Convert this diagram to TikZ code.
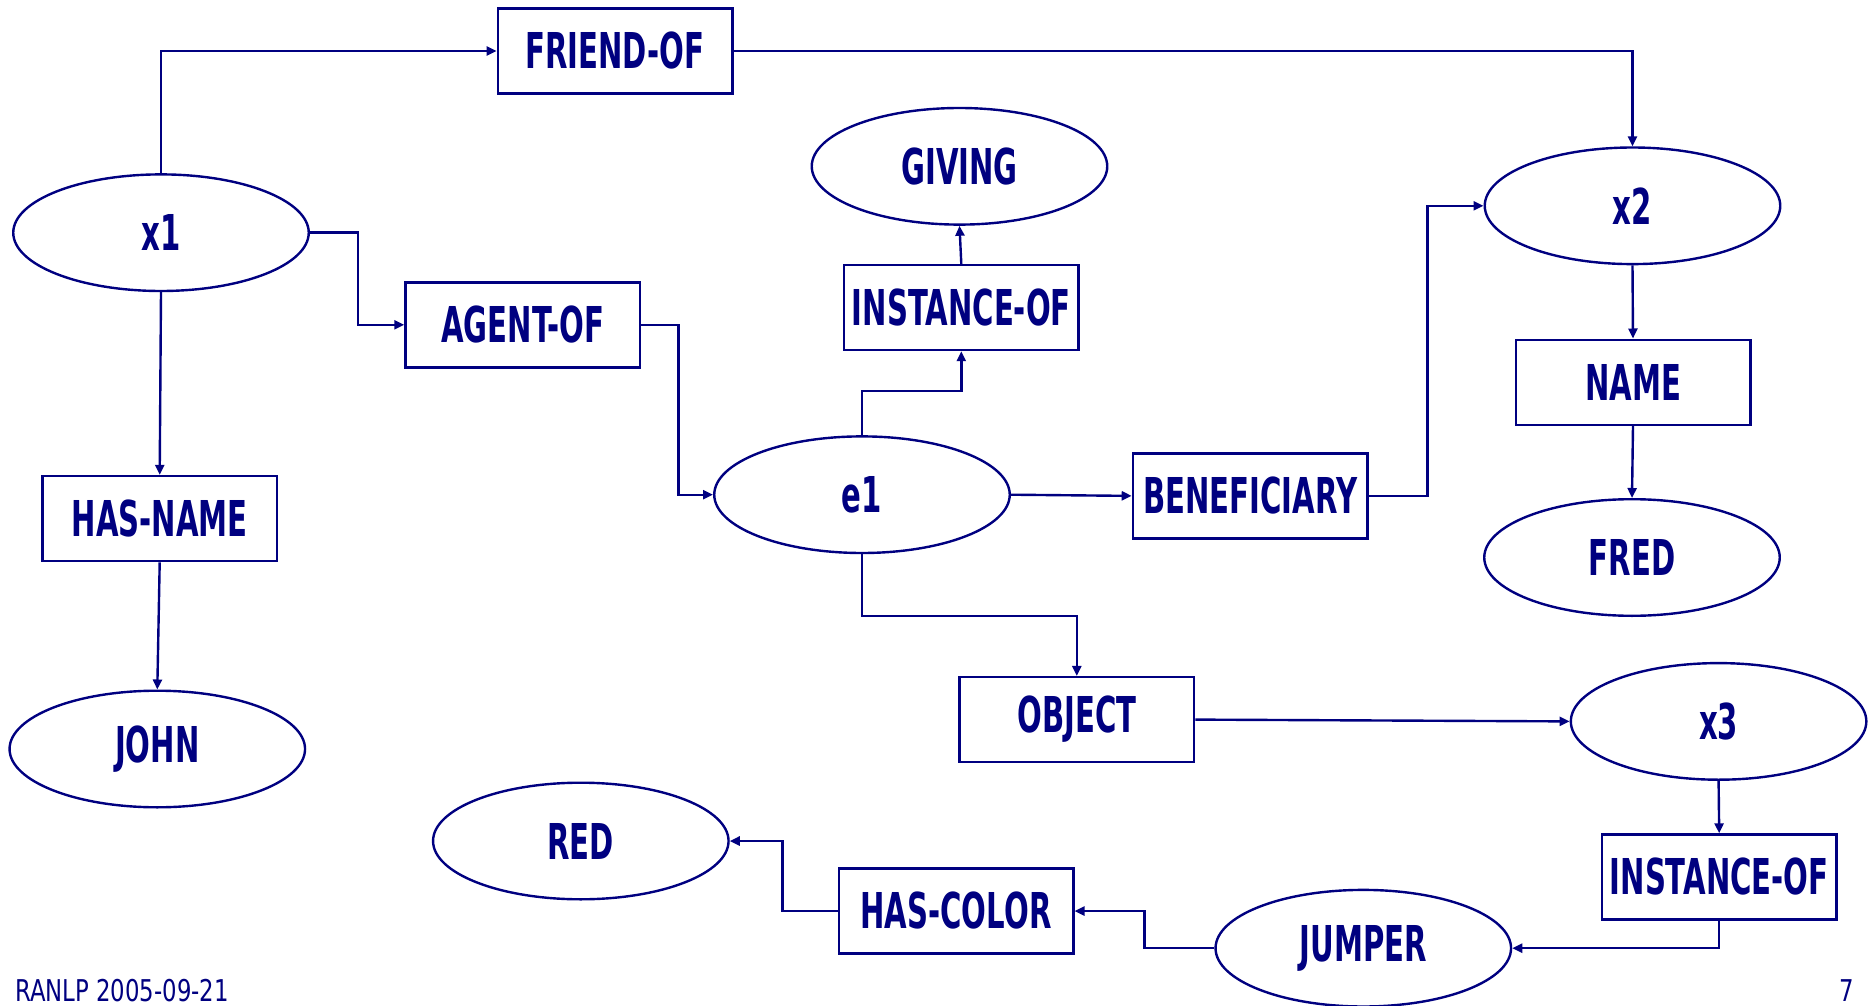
\documentclass[tikz,border=0pt]{standalone}
\usepackage{fontspec}
\usepackage{tikz}
\usetikzlibrary{arrows.meta}
\usetikzlibrary{shapes.geometric}
\newfontfamily\slidefont[FakeStretch=0.59]{DejaVu Sans}
\newfontfamily\footfont[FakeStretch=0.76]{DejaVu Sans}
\definecolor{navy}{RGB}{0,0,128}

\begin{document}
\begin{tikzpicture}[x=0.5pt, y=-0.5pt, color=navy, line width=1.2pt,
  concept/.style={ellipse, draw, minimum width=147.75pt, minimum height=58.3pt, inner sep=0pt,
    font=\slidefont\bfseries\fontsize{24.7}{28}\selectfont},
  relation/.style={rectangle, draw, minimum width=117.3pt, minimum height=42.5pt, inner sep=0pt,
    font=\slidefont\bfseries\fontsize{24.7}{28}\selectfont},
  link/.style={-{Triangle[length=5pt,width=4.5pt]}},
  slidefoot/.style={inner sep=0pt, font=\footfont\fontsize{15}{18}\selectfont}]
\useasboundingbox (0,0) rectangle (1876,1006);
\node[relation] (friendof) at (615, 51) {FRIEND-OF};
\node[concept] (giving) at (959.5, 166.3) {GIVING};
\node[concept] (xone) at (161, 232.7) {x1};
\node[concept] (xtwo) at (1632.5, 205.8) {x2};
\node[relation] (instof) at (961.3, 307.5) {INSTANCE-OF};
\node[relation] (agentof) at (522.8, 324.8) {AGENT-OF};
\node[relation] (name) at (1633, 382.2) {NAME};
\node[concept] (eone) at (862, 494.7) {e1};
\node[relation] (benef) at (1250.2, 495.9) {BENEFICIARY};
\node[relation] (hasname) at (159.7, 518.6) {HAS-NAME};
\node[concept] (fred) at (1632, 557.5) {FRED};
\node[relation] (object) at (1076.8, 719.6) {OBJECT};
\node[concept] (xthree) at (1718.6, 721.4) {x3};
\node[concept] (john) at (157.3, 749) {JOHN};
\node[concept] (red) at (580.8, 841) {RED};
\node[relation] (instofb) at (1719.2, 877) {INSTANCE-OF};
\node[relation] (hascolor) at (956, 911) {HAS-COLOR};
\node[concept] (jumper) at (1363.3, 948.2) {JUMPER};
\node[slidefoot, anchor=base west] (date) at (14, 1001) {RANLP 2005-09-21};
\node[slidefoot, anchor=base west] (page) at (1838, 1001) {7};
\draw[link] (xone.north) |- (friendof.west);
\draw[link] (friendof.east) -| (xtwo.north);
\draw[link] (xone.east) -- ++(48,0) |- (agentof.west);
\draw[link] (agentof.east) -- ++(37,0) |- (eone.west);
\draw[link] (xone.south) -- (hasname.north);
\draw[link] (hasname.south) -- (john.north);
\draw[link] (eone.north) -- ++(0,-44) -| (instof.south);
\draw[link] (instof.north) -- (giving.south);
\draw[link] (eone.east) -- (benef.west);
\draw[link] (benef.east) -- ++(58.6,0) |- (xtwo.west);
\draw[link] (xtwo.south) -- (name.north);
\draw[link] (name.south) -- (fred.north);
\draw[link] (eone.south) -- ++(0,62) -| (object.north);
\draw[link] (object.east) -- (xthree.west);
\draw[link] (xthree.south) -- (instofb.north);
\draw[link] (instofb.south) |- (jumper.east);
\draw[link] (jumper.west) -- ++(-70,0) |- (hascolor.east);
\draw[link] (hascolor.west) -- ++(-55,0) |- (red.east);
\end{tikzpicture}
\end{document}
